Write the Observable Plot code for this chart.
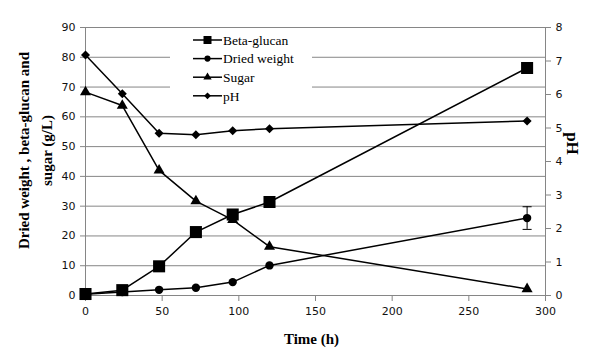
<!DOCTYPE html>
<html>
<head>
<meta charset="utf-8">
<script src="https://cdn.jsdelivr.net/npm/d3@7"></script>
<script src="https://cdn.jsdelivr.net/npm/@observablehq/plot@0.6"></script>
<style>
  html, body { margin: 0; padding: 0; background: #fff; }
  #wrap { position: relative; width: 604px; height: 360px; }
  #legend { position: absolute; left: 170px; top: 29px; width: 142px; height: 76px; background: #fff; }
</style>
</head>
<body>
<div id="wrap"><div id="legend"></div></div>
<script>
// ---- Data ----
const times = [0, 24, 48, 72, 96, 120, 288];
const betaGlucan = [0.5, 1.8, 9.8, 21.3, 27.2, 31.4, 76.4];
const driedWeight = [0.4, 1.2, 1.9, 2.6, 4.5, 10.1, 26.0];
const driedWeightErr = [0, 0, 0, 0, 0, 0, 3.8];
const sugar = [68.3, 63.8, 42.0, 31.7, 25.4, 16.4, 2.2];
const pH = [7.18, 6.02, 4.84, 4.80, 4.92, 4.98, 5.21];

const leftTicks = [0, 10, 20, 30, 40, 50, 60, 70, 80, 90];
const rightTicks = [0, 1, 2, 3, 4, 5, 6, 7, 8];
const xTicks = [0, 50, 100, 150, 200, 250, 300];
const seriesNames = ["Beta-glucan", "Dried weight", "Sugar", "pH"];

const leftMax = 90, rightMax = 8;
const k = leftMax / rightMax; // pH -> left axis units

const rows = times.map((t, i) => ({
  t, beta: betaGlucan[i], dw: driedWeight[i], err: driedWeightErr[i],
  sugar: sugar[i], ph: pH[i] * k
}));
const errRows = rows.filter(d => d.err > 0);

const grid = "#868686";
const tickFont = "DejaVu Sans, sans-serif";
const serif = "Liberation Serif, Times New Roman, serif";

const diamond = {
  draw(ctx, size) {
    const h = Math.sqrt(size / 2);
    ctx.moveTo(0, -h); ctx.lineTo(h, 0); ctx.lineTo(0, h); ctx.lineTo(-h, 0); ctx.closePath();
  }
};
const cap = {
  draw(ctx, size) {
    const w = Math.sqrt(size) / 2;
    ctx.moveTo(-w, 0); ctx.lineTo(w, 0);
  }
};

const lineOpts = {stroke: "black", strokeWidth: 1.5};

const chart = Plot.plot({
  width: 604,
  height: 360,
  marginLeft: 85,
  marginRight: 59,
  marginTop: 27,
  marginBottom: 65,
  style: {fontFamily: tickFont, fontSize: "11px", background: "transparent"},
  x: {domain: [0, 300]},
  y: {domain: [0, leftMax]},
  marks: [
    Plot.ruleY(leftTicks, {stroke: grid, strokeWidth: 1}),
    Plot.ruleX([0, 300], {stroke: grid, strokeWidth: 1}),
    Plot.axisY(leftTicks, {anchor: "left", tickSize: 5, tickPadding: 5, stroke: grid, fill: "#111", fontSize: 11, fontFamily: tickFont, label: null}),
    Plot.axisY(rightTicks.map(v => v * k), {anchor: "right", tickSize: 5, tickPadding: 5, stroke: grid, fill: "#111", fontSize: 11, fontFamily: tickFont, label: null, tickFormat: d => String(Math.round(d / k))}),
    Plot.axisX(xTicks, {anchor: "bottom", tickSize: 6, tickPadding: 6, stroke: grid, fill: "#111", fontSize: 11, fontFamily: tickFont, label: null}),

    Plot.line(rows, {x: "t", y: "ph", ...lineOpts}),
    Plot.line(rows, {x: "t", y: "sugar", ...lineOpts}),
    Plot.line(rows, {x: "t", y: "dw", ...lineOpts}),
    Plot.line(rows, {x: "t", y: "beta", ...lineOpts}),

    Plot.ruleX(errRows, {x: "t", y1: d => d.dw - d.err, y2: d => d.dw + d.err, stroke: "black", strokeWidth: 1}),
    Plot.dot(errRows, {x: "t", y: d => d.dw - d.err, symbol: cap, r: 5.1, stroke: "black", fill: "none", strokeWidth: 1}),
    Plot.dot(errRows, {x: "t", y: d => d.dw + d.err, symbol: cap, r: 5.1, stroke: "black", fill: "none", strokeWidth: 1}),

    Plot.dot(rows, {x: "t", y: "ph", symbol: diamond, r: 3.6, fill: "black", stroke: "none"}),
    Plot.dot(rows, {x: "t", y: "sugar", symbol: "triangle", r: 4.1, fill: "black", stroke: "none"}),
    Plot.dot(rows, {x: "t", y: "dw", symbol: "circle", r: 4.2, fill: "black", stroke: "none"}),
    Plot.dot(rows, {x: "t", y: "beta", symbol: "square", r: 6.8, fill: "black", stroke: "none"}),

    Plot.text(["Dried weight , beta-glucan and\nsugar (g/L)"], {
      frameAnchor: "left", rotate: -90, dx: -52, dy: -11, lineHeight: 1.5,
      fontFamily: serif, fontWeight: "bold", fontSize: 15, fill: "black", textAnchor: "middle", lineAnchor: "middle"
    }),
    Plot.text(["pH"], {
      frameAnchor: "right", rotate: 90, dx: 27, dy: -18,
      fontFamily: serif, fontWeight: "bold", fontSize: 17, fill: "black", textAnchor: "middle", lineAnchor: "middle"
    }),
    Plot.text(["Time (h)"], {
      frameAnchor: "bottom", dx: -4, dy: 44,
      fontFamily: serif, fontWeight: "bold", fontSize: 15, fill: "black", textAnchor: "middle", lineAnchor: "middle"
    })
  ]
});
chart.style.position = "absolute";
chart.style.left = "0px";
chart.style.top = "0px";
const wrap = document.getElementById("wrap");
wrap.insertBefore(chart, wrap.firstChild);

// ---- Legend ----
const legendSymbols = [
  d3.symbol(d3.symbolSquare, 64)(),
  d3.symbol(d3.symbolCircle, 30)(),
  d3.symbol(d3.symbolTriangle, 30)(),
  (() => { const h = 3.4; return `M0,${-h}L${h},0L0,${h}L${-h},0Z`; })()
];
const lsvg = d3.select("#legend").append("svg").attr("width", 142).attr("height", 76);
seriesNames.forEach((name, i) => {
  const g = lsvg.append("g").attr("transform", `translate(0,${11 + i * 18.6})`);
  g.append("line").attr("x1", 23).attr("x2", 52).attr("y1", 0).attr("y2", 0).attr("stroke", "black").attr("stroke-width", 1.5);
  g.append("path").attr("d", legendSymbols[i]).attr("transform", "translate(37.5,0)").attr("fill", "black");
  g.append("text").attr("x", 53).attr("y", 0).attr("dy", "0.35em")
    .attr("font-family", serif).attr("font-size", 13.5).attr("fill", "black").text(name);
});
</script>
</body>
</html>
